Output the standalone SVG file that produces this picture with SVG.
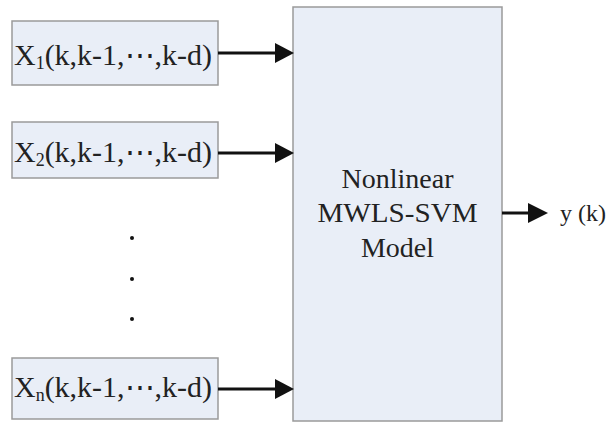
<svg xmlns="http://www.w3.org/2000/svg" width="610" height="423" viewBox="0 0 610 423">
<defs>
<style>
.box{fill:#E9EEF7;stroke:#9A9A9A;stroke-width:1.5}
.t{font-family:"Liberation Serif","Times New Roman",serif;fill:#222}
.c{stroke:#111;stroke-width:3;fill:none}
.h{fill:#111}
</style>
</defs>
<rect width="610" height="423" fill="#fff"/>
<g id="x1"><rect class="box" x="12" y="21" width="206" height="64"/>
<text class="t" x="14" y="65" font-size="30" textLength="198" lengthAdjust="spacingAndGlyphs">X<tspan font-size="18" dy="4">1</tspan><tspan dy="-4">(k,k-1,⋯,k-d)</tspan></text></g>
<g id="x2"><rect class="box" x="12" y="122" width="206" height="56"/>
<text class="t" x="14" y="162" font-size="30" textLength="198" lengthAdjust="spacingAndGlyphs">X<tspan font-size="18" dy="4">2</tspan><tspan dy="-4">(k,k-1,⋯,k-d)</tspan></text></g>
<g id="xn"><rect class="box" x="12" y="358" width="206" height="61"/>
<text class="t" x="14" y="397" font-size="30" textLength="198" lengthAdjust="spacingAndGlyphs">X<tspan font-size="18" dy="4">n</tspan><tspan dy="-4">(k,k-1,⋯,k-d)</tspan></text></g>
<g id="dots" fill="#111"><circle cx="132" cy="238" r="2"/><circle cx="132" cy="279" r="2"/><circle cx="132" cy="319" r="2"/></g>
<g id="model"><rect class="box" x="293" y="7" width="209" height="414"/>
<text class="t" font-size="28" text-anchor="middle"><tspan x="397.5" y="188">Nonlinear</tspan><tspan x="397.5" y="222" textLength="160" lengthAdjust="spacingAndGlyphs">MWLS-SVM</tspan><tspan x="397.5" y="257">Model</tspan></text></g>
<g id="connectors">
<line class="c" x1="218" y1="53" x2="278" y2="53"/><polygon class="h" points="275,43 294,53 275,63"/>
<line class="c" x1="218" y1="153" x2="278" y2="153"/><polygon class="h" points="275,143 294,153 275,163"/>
<line class="c" x1="218" y1="389" x2="278" y2="389"/><polygon class="h" points="275,379 294,389 275,399"/>
<line class="c" x1="502" y1="213" x2="532" y2="213"/><polygon class="h" points="528,203 548,213 528,223"/>
</g>
<g id="out"><text class="t" x="560" y="221" font-size="24">y (k)</text></g>
</svg>
